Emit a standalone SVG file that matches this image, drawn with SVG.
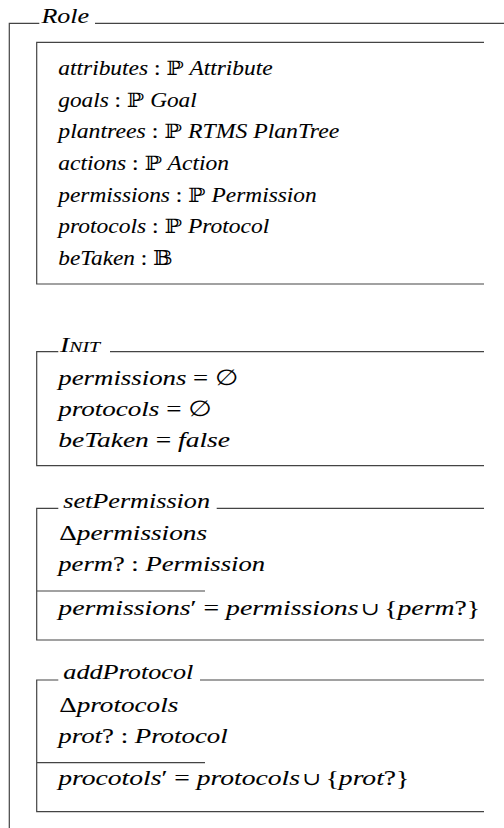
<svg xmlns="http://www.w3.org/2000/svg" width="504" height="828" viewBox="0 0 504 828">
<style>
  .ln { fill: none; stroke: #444; stroke-width: 1.2; }
  .t { font-family: "Liberation Serif", "DejaVu Serif", serif; font-style: italic; fill: #000; stroke: #000; stroke-width: 0.08; }
  .b { font-size: 20px; }
  .m { font-size: 22px; }
  .h { font-size: 21px; }
  .u { font-style: normal; }
  .s { font-family: "DejaVu Serif", "DejaVu Sans", serif; font-style: normal; stroke-width: 0; }
</style>
<rect width="504" height="828" fill="#fff"/>

<g id="role">
  <path class="ln" d="M39.3,23.3 H9.3 V828 M95,23.3 H504"/>
  <text class="t h" x="41.5" y="22.5" textLength="47.6" lengthAdjust="spacingAndGlyphs">Role</text>
</g>

<g id="state">
  <path class="ln" d="M484,42.3 H36.7 V284 H484"/>
  <text class="t b" x="58.3" y="75" textLength="214.4" lengthAdjust="spacingAndGlyphs">attributes<tspan class="u"> : </tspan><tspan class="s">ℙ</tspan> Attribute</text>
  <text class="t b" x="58.3" y="106.7" textLength="138.4" lengthAdjust="spacingAndGlyphs">goals<tspan class="u"> : </tspan><tspan class="s">ℙ</tspan> Goal</text>
  <text class="t b" x="58.3" y="138.2" textLength="281" lengthAdjust="spacingAndGlyphs">plantrees<tspan class="u"> : </tspan><tspan class="s">ℙ</tspan> RTMS PlanTree</text>
  <text class="t b" x="58.3" y="169.8" textLength="170.7" lengthAdjust="spacingAndGlyphs">actions<tspan class="u"> : </tspan><tspan class="s">ℙ</tspan> Action</text>
  <text class="t b" x="58.3" y="201.5" textLength="258.4" lengthAdjust="spacingAndGlyphs">permissions<tspan class="u"> : </tspan><tspan class="s">ℙ</tspan> Permission</text>
  <text class="t b" x="58.3" y="233.2" textLength="211" lengthAdjust="spacingAndGlyphs">protocols<tspan class="u"> : </tspan><tspan class="s">ℙ</tspan> Protocol</text>
  <text class="t b" x="58.3" y="264.8" textLength="114.4" lengthAdjust="spacingAndGlyphs">beTaken<tspan class="u"> : </tspan><tspan class="s">𝔹</tspan></text>
</g>

<g id="init">
  <path class="ln" d="M58.3,351.7 H36.7 V465.7 H484 M110,351.7 H484"/>
  <text class="t" x="60" y="352" textLength="40" lengthAdjust="spacingAndGlyphs"><tspan font-size="21">I</tspan><tspan font-size="15">NIT</tspan></text>
  <text class="t m" x="58.3" y="384.5" textLength="180" lengthAdjust="spacingAndGlyphs">permissions<tspan class="u"> = </tspan><tspan class="s">∅</tspan></text>
  <text class="t m" x="58.3" y="415.5" textLength="153.4" lengthAdjust="spacingAndGlyphs">protocols<tspan class="u"> = </tspan><tspan class="s">∅</tspan></text>
  <text class="t m" x="58.3" y="446.5" textLength="171.7" lengthAdjust="spacingAndGlyphs">beTaken<tspan class="u"> = </tspan>false</text>
</g>

<g id="setPermission">
  <path class="ln" d="M58.3,508.3 H36.7 V640 H484 M216.7,508.3 H484 M36.7,591 H205"/>
  <text class="t h" x="63.3" y="507.5" textLength="146.7" lengthAdjust="spacingAndGlyphs">setPermission</text>
  <text class="t m" x="59.3" y="540" textLength="147.7" lengthAdjust="spacingAndGlyphs"><tspan class="u">Δ</tspan>permissions</text>
  <text class="t m" x="58.3" y="571.3" textLength="206.7" lengthAdjust="spacingAndGlyphs">perm<tspan class="u">? : </tspan>Permission</text>
  <text class="t m" x="58.3" y="614.5" textLength="421.7" lengthAdjust="spacingAndGlyphs">permissions<tspan class="u">′ = </tspan>permissions<tspan class="s" font-size="18">&#8202;∪&#8201;</tspan><tspan class="u">{</tspan>perm<tspan class="u">?}</tspan></text>
</g>

<g id="addProtocol">
  <path class="ln" d="M58.3,680 H36.7 V811.7 H484 M200,680 H484 M36.7,762.7 H205"/>
  <text class="t h" x="63.3" y="679.2" textLength="130" lengthAdjust="spacingAndGlyphs">addProtocol</text>
  <text class="t m" x="59.3" y="711.7" textLength="119" lengthAdjust="spacingAndGlyphs"><tspan class="u">Δ</tspan>protocols</text>
  <text class="t m" x="58.3" y="743.2" textLength="169.4" lengthAdjust="spacingAndGlyphs">prot<tspan class="u">? : </tspan>Protocol</text>
  <text class="t m" x="58.3" y="785" textLength="351" lengthAdjust="spacingAndGlyphs">procotols<tspan class="u">′ = </tspan>protocols<tspan class="s" font-size="18">&#8202;∪&#8201;</tspan><tspan class="u">{</tspan>prot<tspan class="u">?}</tspan></text>
</g>

<g id="connectors"></g>
</svg>
